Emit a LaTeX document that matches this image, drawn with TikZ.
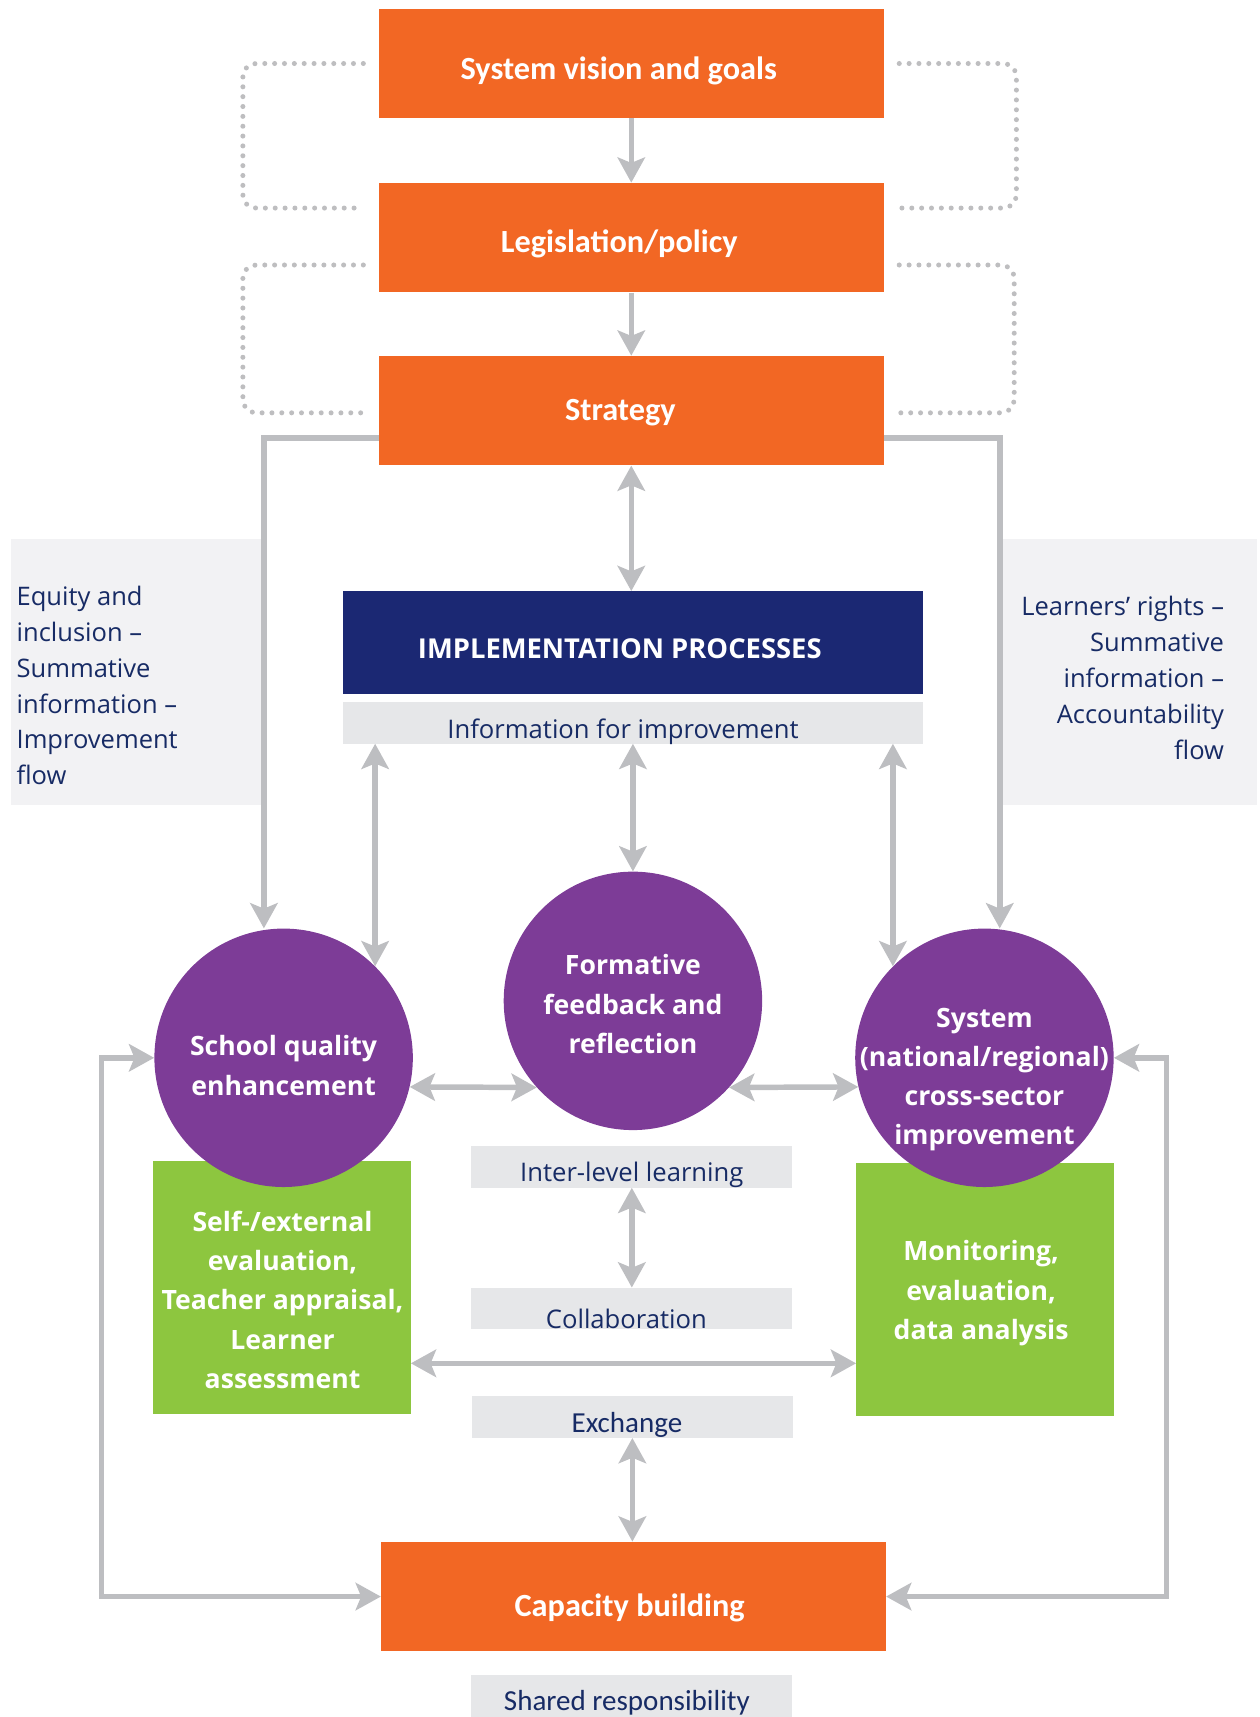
\documentclass[tikz,border=0pt]{standalone}
\usepackage{fontspec}
\setmainfont{Carlito}
\newfontfamily\osans{Open Sans}
\usetikzlibrary{arrows.meta,calc}
\definecolor{orng}{HTML}{F26724}
\definecolor{navy}{HTML}{1B2873}
\definecolor{purp}{HTML}{7D3C97}
\definecolor{grn}{HTML}{8DC63F}
\definecolor{agray}{HTML}{BDBEC1}
\definecolor{dgray}{HTML}{BEBEC0}
\definecolor{barc}{HTML}{E6E7E9}
\definecolor{panelc}{HTML}{F2F2F4}
\definecolor{ltxt}{HTML}{172B65}
\begin{document}
\begin{tikzpicture}[x=1pt,y=-1pt,
  obox/.style={fill=orng, minimum width=461pt, minimum height=100pt, inner sep=0pt},
  otext/.style={text=white, inner sep=0pt, font=\fontsize{29.5}{33}\selectfont\bfseries},
  barbox/.style={fill=barc, minimum width=293pt, minimum height=38pt, inner sep=0pt},
  btext/.style={text=ltxt, inner sep=0pt, font=\osans\fontsize{23.4}{27}\selectfont},
  ctxt/.style={text=ltxt, inner sep=0pt, font=\fontsize{26.5}{30}\selectfont},
  circ/.style={circle, fill=purp, minimum size=236pt, inner sep=0pt},
  ctext/.style={text=white, align=center, inner sep=0pt, font=\osans\bfseries\fontsize{24.3}{35.8}\selectfont},
  gbox/.style={fill=grn, minimum width=235pt, minimum height=231pt, inner sep=0pt},
  panelbox/.style={fill=panelc, minimum height=243pt, inner sep=0pt},
  sidetext/.style={text=ltxt, inner sep=0pt, font=\osans\fontsize{23.3}{32.8}\selectfont},
  arr/.style={draw=agray, line width=5pt, -{Stealth[length=23pt,width=25pt,inset=5pt]}},
  dbl/.style={draw=agray, line width=5pt, {Stealth[length=23pt,width=25pt,inset=5pt]}-{Stealth[length=23pt,width=25pt,inset=5pt]}},
  dotl/.style={draw=dgray, line width=4.6pt, dash pattern=on 0pt off 9pt, line cap=round, rounded corners=12pt}
]
\useasboundingbox (0,0) rectangle (1150,1568);

% side panels
\node[panelbox, minimum width=230pt] (lp) at (125,613.5) {};
\node[panelbox, minimum width=233pt] (rp) at (1031.5,613.5) {};
\node[sidetext, anchor=west, align=left] (lt) at (15,626) {Equity and\\inclusion –\\Summative\\information –\\Improvement\\flow};
\node[sidetext, anchor=east, align=right] (rt) at (1118,619) {Learners’ rights –\\Summative\\information –\\Accountability\\flow};

% top boxes
\node[obox] (v1) at (576.5,58) {};
\node[obox] (v2) at (576.5,217) {};
\node[obox] (v3) at (576.5,375) {};
\node[otext] (v1t) at (565,65) {System vision and goals};
\node[otext] (v2t) at (565.5,223) {Legislation/policy};
\node[otext] (v3t) at (566.5,377) {Strategy};

\draw[arr] (v1.south) -- (v2.north);
\draw[arr] (v2.south) -- (v3.north);

% dotted loops
\draw[dotl] ([xshift=-14pt]v1.west) -- ([xshift=-124pt]v1.west) |- ([xshift=-14pt,yshift=27pt]v2.west);
\draw[dotl] ([xshift=-14pt,yshift=-25pt]v2.west) -- ([xshift=-124pt,yshift=-25pt]v2.west) |- ([xshift=-14pt,yshift=-2pt]v3.west);
\draw[dotl] ([xshift=14pt]v1.east) -- ([xshift=121pt]v1.east) |- ([xshift=14pt,yshift=27pt]v2.east);
\draw[dotl] ([xshift=14pt,yshift=-25pt]v2.east) -- ([xshift=119pt,yshift=-25pt]v2.east) |- ([xshift=14pt,yshift=-2pt]v3.east);

% implementation
\node[fill=navy, minimum width=530pt, minimum height=94pt, inner sep=0pt] (impl) at (578,587) {};
\node[text=white, inner sep=0pt, font=\osans\bfseries\fontsize{25}{29}\selectfont] (implt) at (566,592) {IMPLEMENTATION PROCESSES};
\node[barbox, minimum width=530pt] (info) at (578,660) {};
\node[btext] (infot) at (569,668) {Information for improvement};

% green boxes
\node[gbox] (gl) at (257.5,1175.5) {};
\node[gbox] (gr) at (899.5,1177.5) {};

% circles
\node[circ] (sq) at (259,966) {};
\node[circ] (mid) at (578,914) {};
\node[circ] (sr) at (899,966) {};
\node[ctext] (sqt) at (259,973) {School quality\\enhancement};
\node[ctext] (midt) at (578,917) {Formative\\feedback and\\reflection};
\node[ctext] (srt) at (899,986) {System\\(national/regional)\\cross-sector\\improvement};
\node[ctext] (glt) at (258,1187) {Self-/external\\evaluation,\\Teacher appraisal,\\Learner\\assessment};
\node[ctext] (grt) at (896,1181) {Monitoring,\\evaluation,\\data analysis};

% bars
\node[barbox] (ilev) at (577,1065.5) {};
\node[barbox] (col) at (576.5,1195) {};
\node[barbox] (exch) at (577.5,1294) {};
\node[barbox] (shr) at (577,1549) {};
\node[btext] (ilevt) at (577,1072.5) {Inter-level learning};
\node[btext] (colt) at (572,1204.5) {Collaboration};
\node[ctxt] (excht) at (572.5,1301) {Exchange};
\node[ctxt] (shrt) at (572.5,1555) {Shared responsibility};

% capacity building
\node[obox] (cap) at (578.5,1458) {};
\node[otext] (capt) at (575,1468) {Capacity building};

% strategy side connectors
\draw[arr, sharp corners] ([yshift=-25pt]v3.west) -| ($(sq.north)+(-18,0)$);
\draw[arr, sharp corners] ([yshift=-25pt]v3.east) -| ($(sr.north)+(14,0)$);

% vertical double arrows
\draw[dbl] (v3.south) -- (v3.south |- impl.north);
\draw[dbl] (info.south -| sq.north east) -- (sq.north east);
\draw[dbl] (info.south) -- (mid.north);
\draw[dbl] (info.south -| sr.north west) -- (sr.north west);
\draw[dbl] (ilev.south) -- (ilev.south |- col.north);
\draw[dbl] (exch.south) -- (exch.south |- cap.north);

% horizontal double arrows
\draw[dbl] (sq.-13) -- (mid.222);
\draw[dbl] (mid.-42) -- (sr.193);
\coordinate (hrow) at (0,1245);
\draw[dbl] (gl.east |- hrow) -- (gr.west |- hrow);

% outer loops
\draw[dbl] (sq.west) -- ++(-48,0) |- (cap.west);
\draw[dbl] (sr.east) -- ++(48,0) |- (cap.east);
\end{tikzpicture}
\end{document}
